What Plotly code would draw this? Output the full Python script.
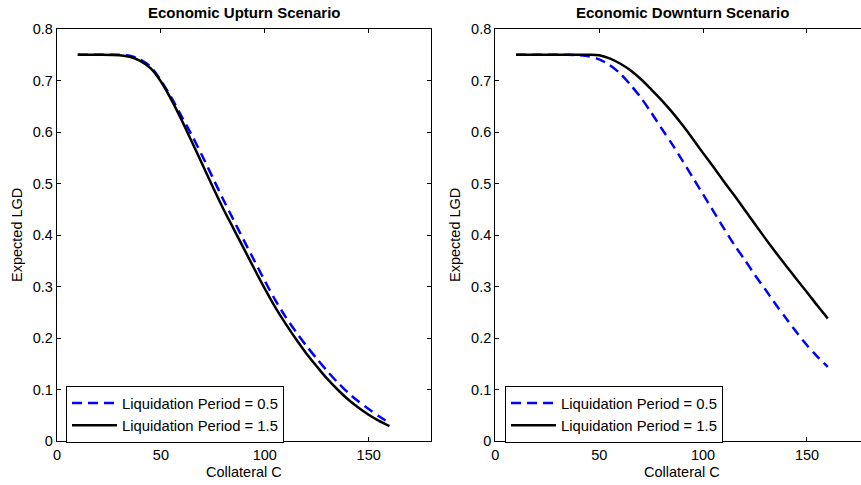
import plotly.graph_objects as go

# ---- data ----
collateral = [10, 20, 30, 35, 40, 45, 50, 55, 60, 65, 70, 75, 80, 85, 90, 95, 100,
              105, 110, 115, 120, 125, 130, 135, 140, 145, 150, 155, 160]

upturn_lp05 = [0.750, 0.750, 0.750, 0.748, 0.741, 0.727, 0.700, 0.667, 0.630, 0.593,
               0.553, 0.511, 0.469, 0.429, 0.389, 0.350, 0.311, 0.274, 0.241, 0.212,
               0.185, 0.160, 0.136, 0.114, 0.094, 0.077, 0.062, 0.048, 0.035]
upturn_lp15 = [0.750, 0.750, 0.749, 0.746, 0.738, 0.724, 0.698, 0.663, 0.623, 0.580,
               0.537, 0.493, 0.451, 0.412, 0.373, 0.334, 0.296, 0.260, 0.228, 0.198,
               0.170, 0.145, 0.121, 0.100, 0.081, 0.065, 0.051, 0.039, 0.029]

downturn_lp05 = [0.750, 0.750, 0.750, 0.750, 0.749, 0.747, 0.741, 0.730, 0.714, 0.692,
                 0.667, 0.638, 0.607, 0.577, 0.545, 0.512, 0.479, 0.446, 0.413, 0.381,
                 0.352, 0.322, 0.294, 0.265, 0.238, 0.211, 0.186, 0.164, 0.144]
downturn_lp15 = [0.750, 0.750, 0.750, 0.750, 0.750, 0.750, 0.749, 0.743, 0.733, 0.720,
                 0.703, 0.683, 0.662, 0.639, 0.614, 0.587, 0.559, 0.532, 0.504, 0.477,
                 0.449, 0.421, 0.393, 0.366, 0.340, 0.314, 0.289, 0.263, 0.238]

series_names = ["Liquidation Period = 0.5", "Liquidation Period = 1.5"]
panel_titles = ["Economic Upturn Scenario", "Economic Downturn Scenario"]
x_label = "Collateral C"
y_label = "Expected LGD"
x_ticks = [0, 50, 100, 150]
y_ticks = [0, 0.1, 0.2, 0.3, 0.4, 0.5, 0.6, 0.7, 0.8]

W, H = 861, 485
FONT = "Liberation Sans, Arial, Helvetica, sans-serif"

fig = go.Figure()

def add_pair(y05, y15, xa, ya, leg):
    fig.add_trace(go.Scatter(x=collateral, y=y05, mode="lines", name=series_names[0],
                             line=dict(color="#0000ff", width=2.5, dash="10px,6px", shape="spline", smoothing=0.8),
                             xaxis=xa, yaxis=ya, legend=leg))
    fig.add_trace(go.Scatter(x=collateral, y=y15, mode="lines", name=series_names[1],
                             line=dict(color="#000000", width=2.5, shape="spline", smoothing=0.8),
                             xaxis=xa, yaxis=ya, legend=leg))

add_pair(upturn_lp05, upturn_lp15, "x", "y", "legend")
add_pair(downturn_lp05, downturn_lp15, "x2", "y2", "legend2")

# pixel geometry
L1, R1 = 57, 431
L2 = 495.3
TOP, BOT = 29, 441
scale = (R1 - L1) / 180.0
x2_end = (W - L2) / scale

ydom = [(H - BOT) / H, (H - TOP) / H]

axis_common = dict(showgrid=False, zeroline=False, showline=True, linecolor="black",
                   linewidth=1.3, ticks="inside", ticklen=4, tickcolor="black",
                   tickwidth=1, automargin=False,
                   tickfont=dict(family=FONT, size=14.5, color="black"))

leg_common = dict(yanchor="top", xanchor="left", y=(H - 386) / H,
                  bgcolor="white", bordercolor="black", borderwidth=1,
                  itemwidth=45, tracegroupgap=0,
                  font=dict(family=FONT, size=14.8, color="black"))

fig.update_layout(
    width=W, height=H,
    margin=dict(l=0, r=0, t=0, b=0, pad=0),
    paper_bgcolor="white", plot_bgcolor="white",
    font=dict(family=FONT, size=14, color="black"),
    xaxis=dict(domain=[L1 / W, R1 / W], range=[0, 180], tickvals=x_ticks, mirror="ticks",
               anchor="y", **axis_common),
    yaxis=dict(domain=ydom, range=[0, 0.8], tickvals=y_ticks, mirror="ticks",
               anchor="x", **axis_common),
    xaxis2=dict(domain=[L2 / W, 1.0], range=[0, x2_end], tickvals=x_ticks, mirror="ticks",
                anchor="y2", **axis_common),
    yaxis2=dict(domain=ydom, range=[0, 0.8], tickvals=y_ticks, mirror=False,
                anchor="x2", **axis_common),
    legend=dict(x=66 / W, **leg_common),
    legend2=dict(x=505 / W, **leg_common),
)

ann = []
centers = [(L1 + R1) / 2, L2 + (R1 - L1) / 2]
ylab_x = [17, 455]
for i in range(2):
    ann.append(dict(text="<b>%s</b>" % panel_titles[i], x=centers[i] / W, y=(H - 12) / H,
                    xref="paper", yref="paper", xanchor="center", yanchor="middle",
                    showarrow=False, font=dict(family=FONT, size=15, color="black")))
    ann.append(dict(text=x_label, x=centers[i] / W, y=(H - 471.5) / H,
                    xref="paper", yref="paper", xanchor="center", yanchor="middle",
                    showarrow=False, font=dict(family=FONT, size=14.5, color="black")))
    ann.append(dict(text=y_label, x=ylab_x[i] / W, y=(H - (TOP + BOT) / 2) / H,
                    xref="paper", yref="paper", xanchor="center", yanchor="middle",
                    textangle=-90, showarrow=False,
                    font=dict(family=FONT, size=14.5, color="black")))
fig.update_layout(annotations=ann)

fig.write_html("out.html", config={"displayModeBar": False},
               post_script="document.body.style.margin='0';document.body.style.overflow='hidden';")
